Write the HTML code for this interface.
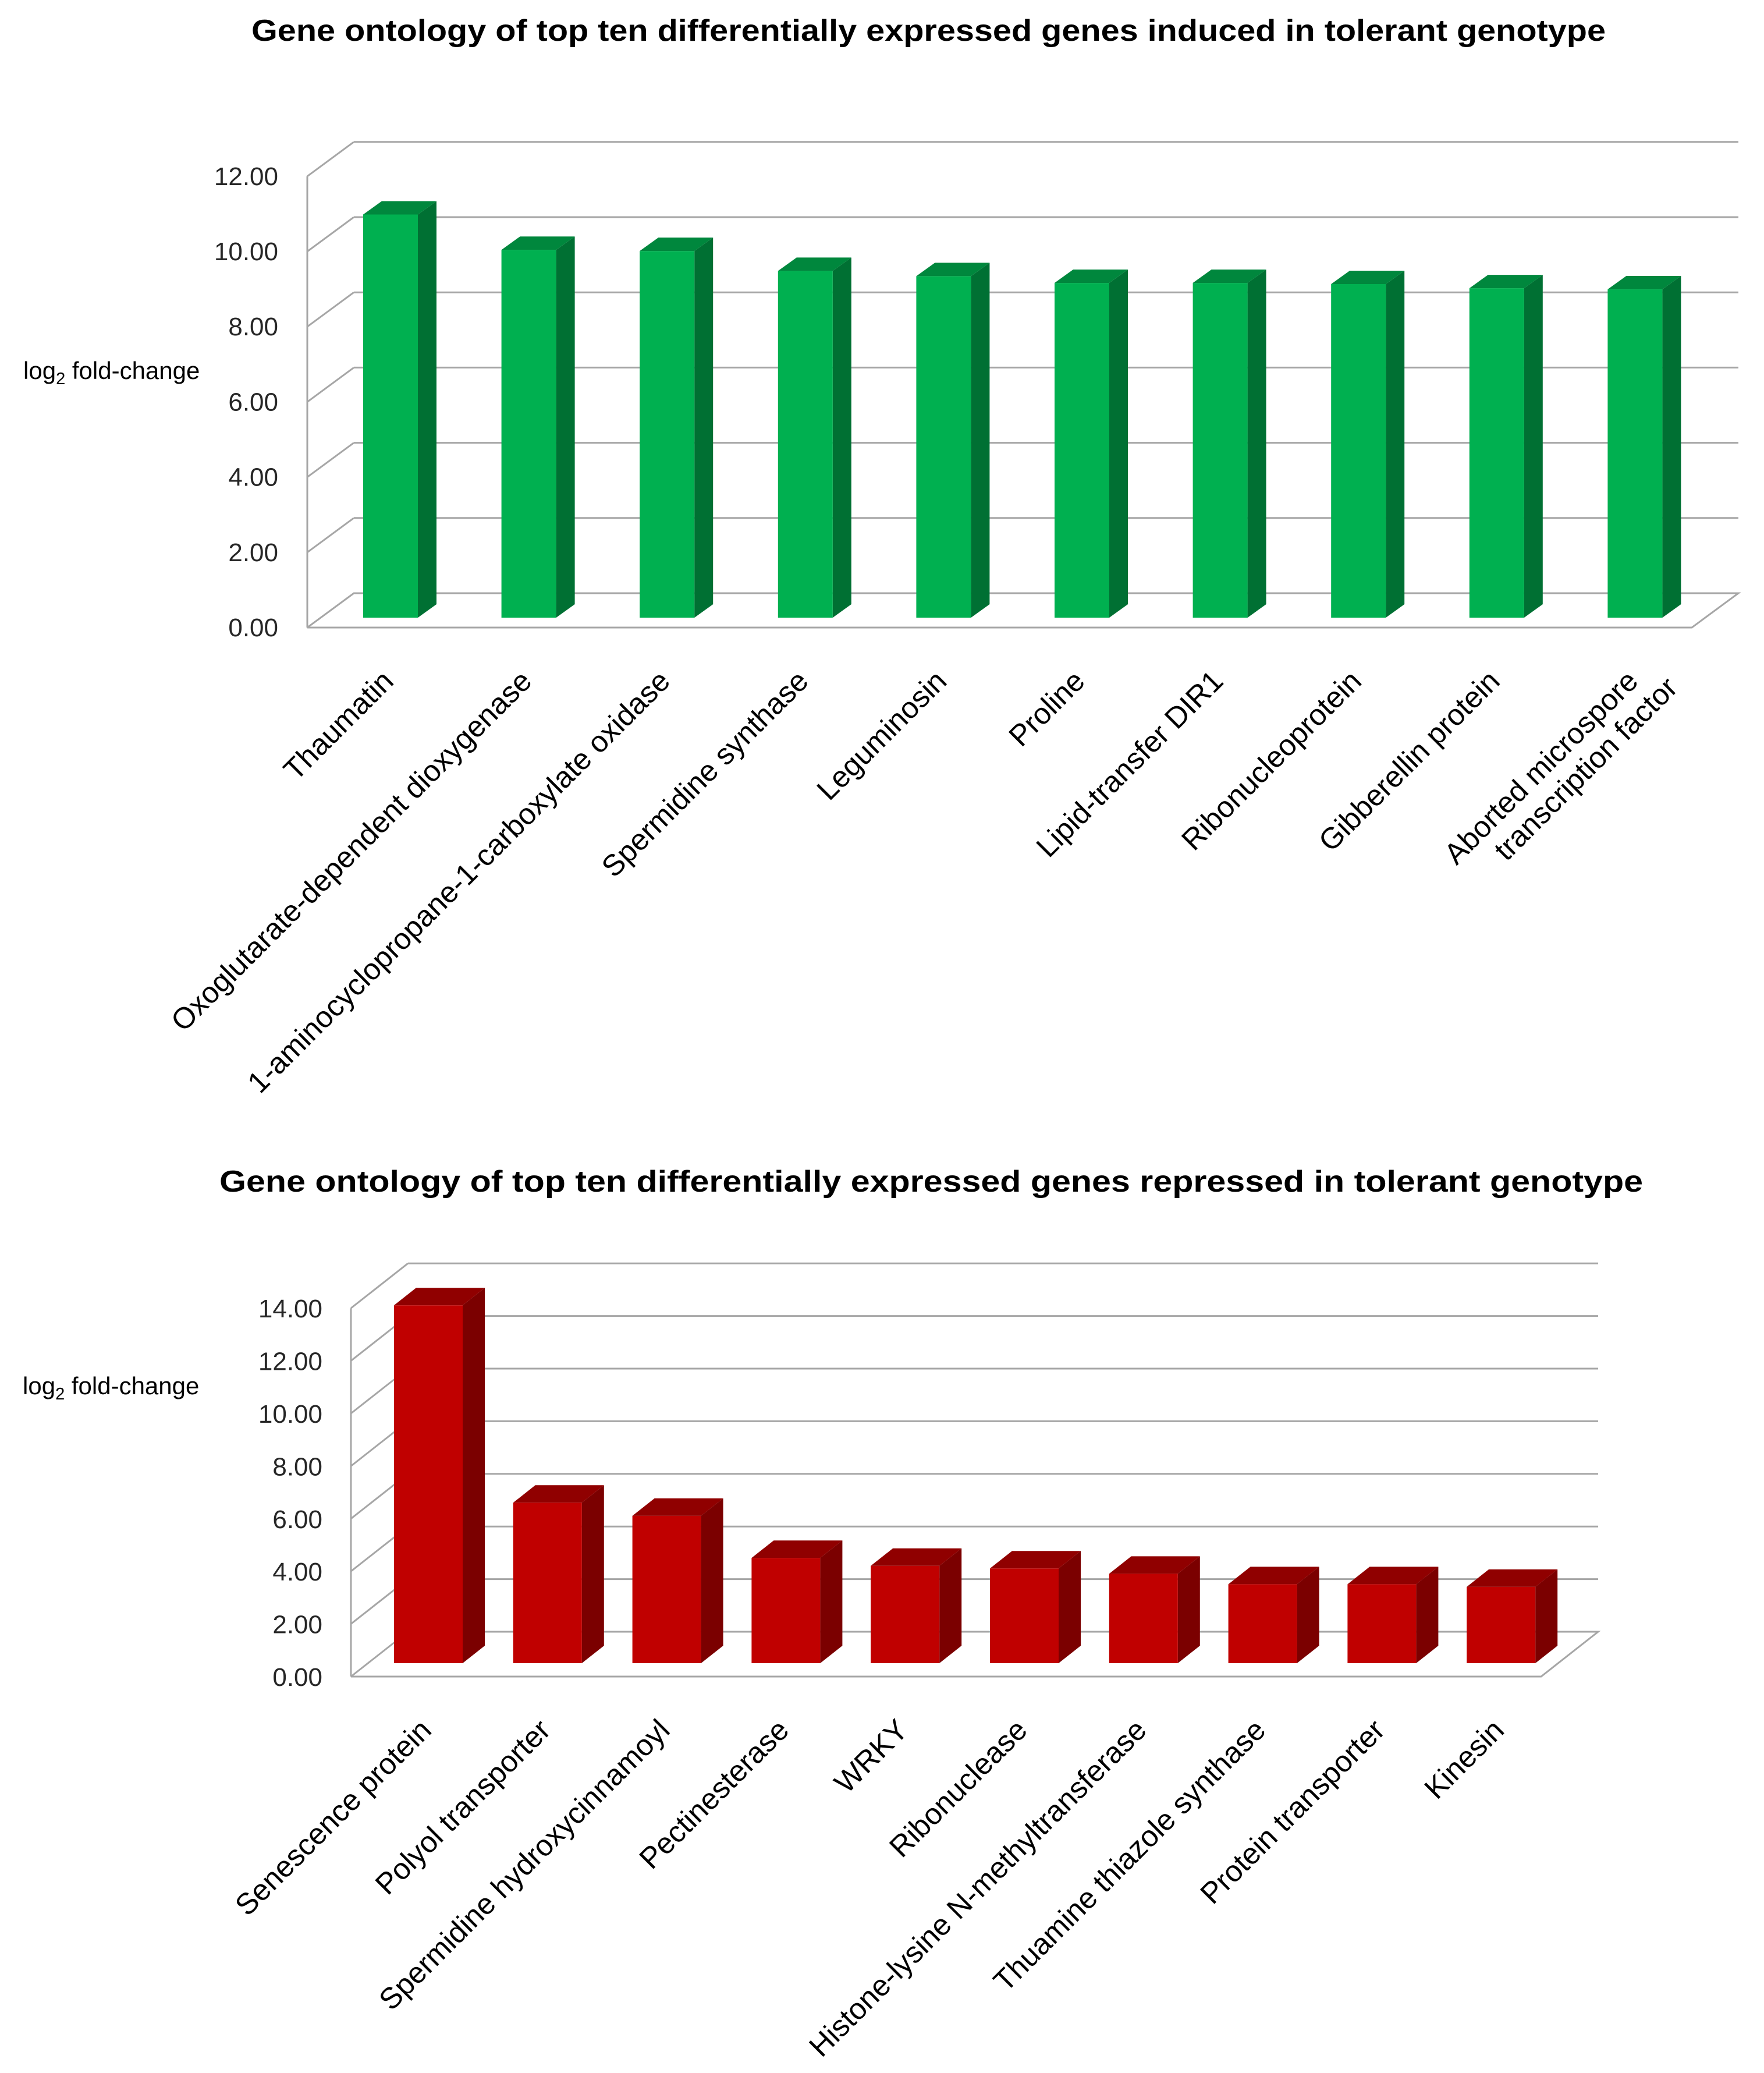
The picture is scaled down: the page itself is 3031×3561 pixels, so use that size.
<!DOCTYPE html>
<html><head><meta charset="utf-8"><style>
html,body{margin:0;padding:0;background:#fff;}
svg{display:block;}
text{font-family:"Liberation Sans",Arial,sans-serif;}
</style></head><body>
<svg id="root" width="3031" height="3561" viewBox="0 0 3031 3561" xmlns="http://www.w3.org/2000/svg">
<text x="432" y="70" font-size="52" font-weight="bold" textLength="2327" lengthAdjust="spacingAndGlyphs">Gene ontology of top ten differentially expressed genes induced in tolerant genotype</text>
<text x="377" y="2047" font-size="52" font-weight="bold" textLength="2446" lengthAdjust="spacingAndGlyphs">Gene ontology of top ten differentially expressed genes repressed in tolerant genotype</text>
<text x="40" y="651" font-size="42">log<tspan font-size="29" dy="9">2</tspan><tspan dy="-9"> fold-change</tspan></text>
<text x="39" y="2395" font-size="42">log<tspan font-size="29" dy="9">2</tspan><tspan dy="-9"> fold-change</tspan></text>
<g id="top"></g>
<g id="bot"></g>
</svg>
<script>
const inducedCategories = ["Thaumatin","Oxoglutarate-dependent dioxygenase","1-aminocyclopropane-1-carboxylate oxidase","Spermidine synthase","Leguminosin","Proline","Lipid-transfer DIR1","Ribonucleoprotein","Gibberellin protein","Aborted microspore|transcription factor"];
const inducedValues = [10.72, 9.78, 9.75, 9.22, 9.08, 8.9, 8.9, 8.87, 8.76, 8.73];
const inducedTicks = ["0.00","2.00","4.00","6.00","8.00","10.00","12.00"];
const repressedCategories = ["Senescence protein","Polyol transporter","Spermidine hydroxycinnamoyl","Pectinesterase","WRKY","Ribonuclease","Histone-lysine N-methyltransferase","Thuamine thiazole synthase","Protein transporter","Kinesin"];
const repressedValues = [13.6, 6.1, 5.6, 4.0, 3.7, 3.6, 3.4, 3.0, 3.0, 2.9];
const repressedTicks = ["0.00","2.00","4.00","6.00","8.00","10.00","12.00","14.00"];

const NS="http://www.w3.org/2000/svg";
function mk(parent,tag,attrs){const e=document.createElementNS(NS,tag);for(const k in attrs)e.setAttribute(k,attrs[k]);parent.appendChild(e);return e;}

function drawChart(g, cfg, cats, vals, ticks){
  const fy = v => cfg.floorY - v*cfg.unit;
  const by = v => cfg.floorY + cfg.dy - v*cfg.unit;
  const bary = v => cfg.barZero - v*cfg.unit;
  const gridColor="#a6a6a6";
  const ax=mk(g,'line',{x1:cfg.x0,y1:fy(parseFloat(ticks[ticks.length-1])),x2:cfg.x0,y2:cfg.floorY,stroke:gridColor,'stroke-width':3});
  
  
  ticks.forEach((t,i)=>{
    const v=parseFloat(t);
    if(v>0){
      const d=mk(g,'line',{x1:cfg.x0,y1:fy(v),x2:cfg.x0+cfg.dx,y2:by(v),stroke:gridColor,'stroke-width':3});
      
      
      const h=mk(g,'line',{x1:cfg.x0+cfg.dx,y1:by(v),x2:cfg.backRight,y2:by(v),stroke:gridColor,'stroke-width':3});
      
      
    }
    const tl=mk(g,'text',{x:cfg.tickX,y:fy(v)+cfg.tickDy,'font-size':44,'text-anchor':'end',fill:'#262626'});
    tl.textContent=t;
    
    
  });
  const fl=mk(g,'polyline',{points:`${cfg.x0},${cfg.floorY} ${cfg.x0+cfg.dx},${cfg.floorY+cfg.dy} ${cfg.backRight},${cfg.floorY+cfg.dy} ${cfg.backRight-cfg.dx},${cfg.floorY} ${cfg.x0},${cfg.floorY}`,fill:'none',stroke:gridColor,'stroke-width':3});
  
  
  vals.forEach((v,i)=>{
    const x=cfg.barX0+i*cfg.barStep, w=cfg.barW, top=bary(v), bot=cfg.barZero, d=cfg.bdx, e=cfg.bdy;
    const side=mk(g,'polygon',{points:`${x+w},${top} ${x+w+d},${top+e} ${x+w+d},${bot+e} ${x+w},${bot}`,fill:cfg.side});
    
    
    const tp=mk(g,'polygon',{points:`${x},${top} ${x+d},${top+e} ${x+w+d},${top+e} ${x+w},${top}`,fill:cfg.topc});
    
    
    const fr=mk(g,'rect',{x:x,y:top,width:w,height:bot-top,fill:cfg.front});
    
    
    const ax2=x+w/2+8, ay=cfg.floorY+cfg.labDy;
    const t=mk(g,'text',{x:ax2,y:ay,'font-size':51,'text-anchor':'end',fill:'#000',transform:`rotate(-45 ${ax2} ${ay})`});
    
    
    const lines=cats[i].split('|');
    if(lines.length===1){t.textContent=lines[0];}
    else{
      lines.forEach((ln,j)=>{const ts=mk(t,'tspan',{x:ax2+(j?40:0),dy:j?56:0});ts.textContent=ln;});
    }
  });
}
drawChart(document.getElementById('top'),{x0:528,floorY:1078,unit:64.6,dx:80,dy:-59,backRight:2987,tickX:478,tickDy:15,barZero:1061,barX0:624,barW:94,barStep:237.6,bdx:32,bdy:-23,front:'#00b050',side:'#007033',topc:'#00873d',labDy:95},inducedCategories,inducedValues,inducedTicks);
drawChart(document.getElementById('bot'),{x0:603,floorY:2880,unit:45.2,dx:98,dy:-77,backRight:2746,tickX:554,tickDy:16,barZero:2857,barX0:677,barW:118,barStep:204.8,bdx:38,bdy:-30,front:'#c00000',side:'#7b0000',topc:'#900000',labDy:95},repressedCategories,repressedValues,repressedTicks);
</script>
</body></html>
